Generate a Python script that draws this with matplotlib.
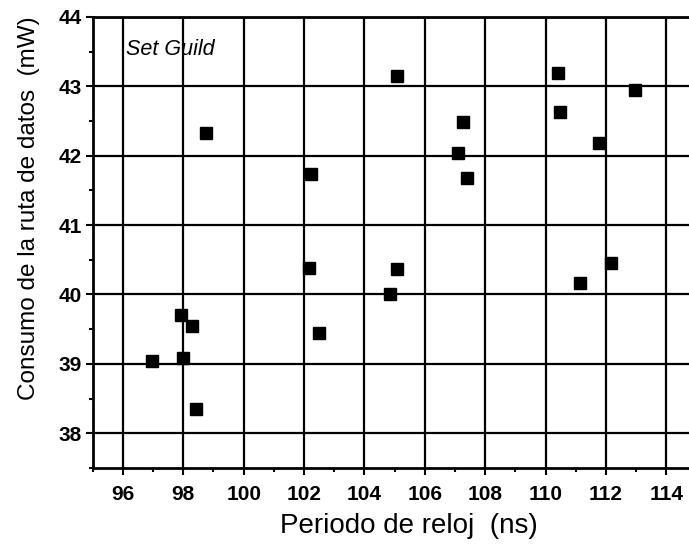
import numpy as np
import matplotlib
matplotlib.use("Agg")
from matplotlib import pyplot as plt
from matplotlib.ticker import MultipleLocator

# periodo de reloj (ns) y consumo (mW)
periodo = [96.97, 97.93, 98.29, 98.0, 98.43, 98.76,
           102.24, 102.17, 102.5,
           105.08, 104.86, 105.09,
           107.1, 107.27, 107.4,
           110.42, 110.48, 111.77, 111.15, 112.17, 112.96]
consumo = [39.04, 39.71, 39.55, 39.08, 38.35, 42.33,
           41.74, 40.38, 39.45,
           43.15, 40.01, 40.36,
           42.04, 42.49, 41.68,
           43.19, 42.63, 42.19, 40.16, 40.46, 42.94]

xticks = np.arange(96, 115, 2)
yticks = np.arange(38, 45, 1)

plt.rcParams['font.family'] = ['Liberation Sans', 'DejaVu Sans']

fig = plt.figure(figsize=(6.89, 5.46), dpi=100)
ax = fig.add_axes([0.1345, 0.143, 0.8655, 0.826])

ax.plot(periodo, consumo, 's', color='black', markersize=8.6, zorder=3)

ax.set_xlim(95, 114.75)
ax.set_ylim(37.5, 44)
ax.set_xticks(xticks)
ax.set_yticks(yticks)
ax.xaxis.set_minor_locator(MultipleLocator(1))
ax.yaxis.set_minor_locator(MultipleLocator(0.5))

ax.grid(True, which='major', color='black', linewidth=1.6)
ax.set_axisbelow(True)

for s in ['left', 'bottom', 'top']:
    ax.spines[s].set_linewidth(2)
ax.spines['right'].set_visible(False)

ax.tick_params(which='major', direction='out', length=5, width=1.5,
               labelsize=15)
ax.tick_params(axis='x', which='major', pad=7)
ax.tick_params(axis='y', which='major', pad=3)
ax.tick_params(which='minor', direction='out', length=3, width=1.5)
for lab in ax.get_xticklabels() + ax.get_yticklabels():
    lab.set_fontweight('bold')

ax.set_xlabel('Periodo de reloj  (ns)', fontsize=20)
ax.set_ylabel('Consumo de la ruta de datos  (mW)', fontsize=17.5)
ax.xaxis.set_label_coords(0.53, -0.1)
ax.yaxis.set_label_coords(-0.088, 0.575)

ax.text(96.1, 43.45, 'Set Guild', fontsize=15.5, style='italic', va='baseline')

fig.savefig('out.png', dpi=100)
